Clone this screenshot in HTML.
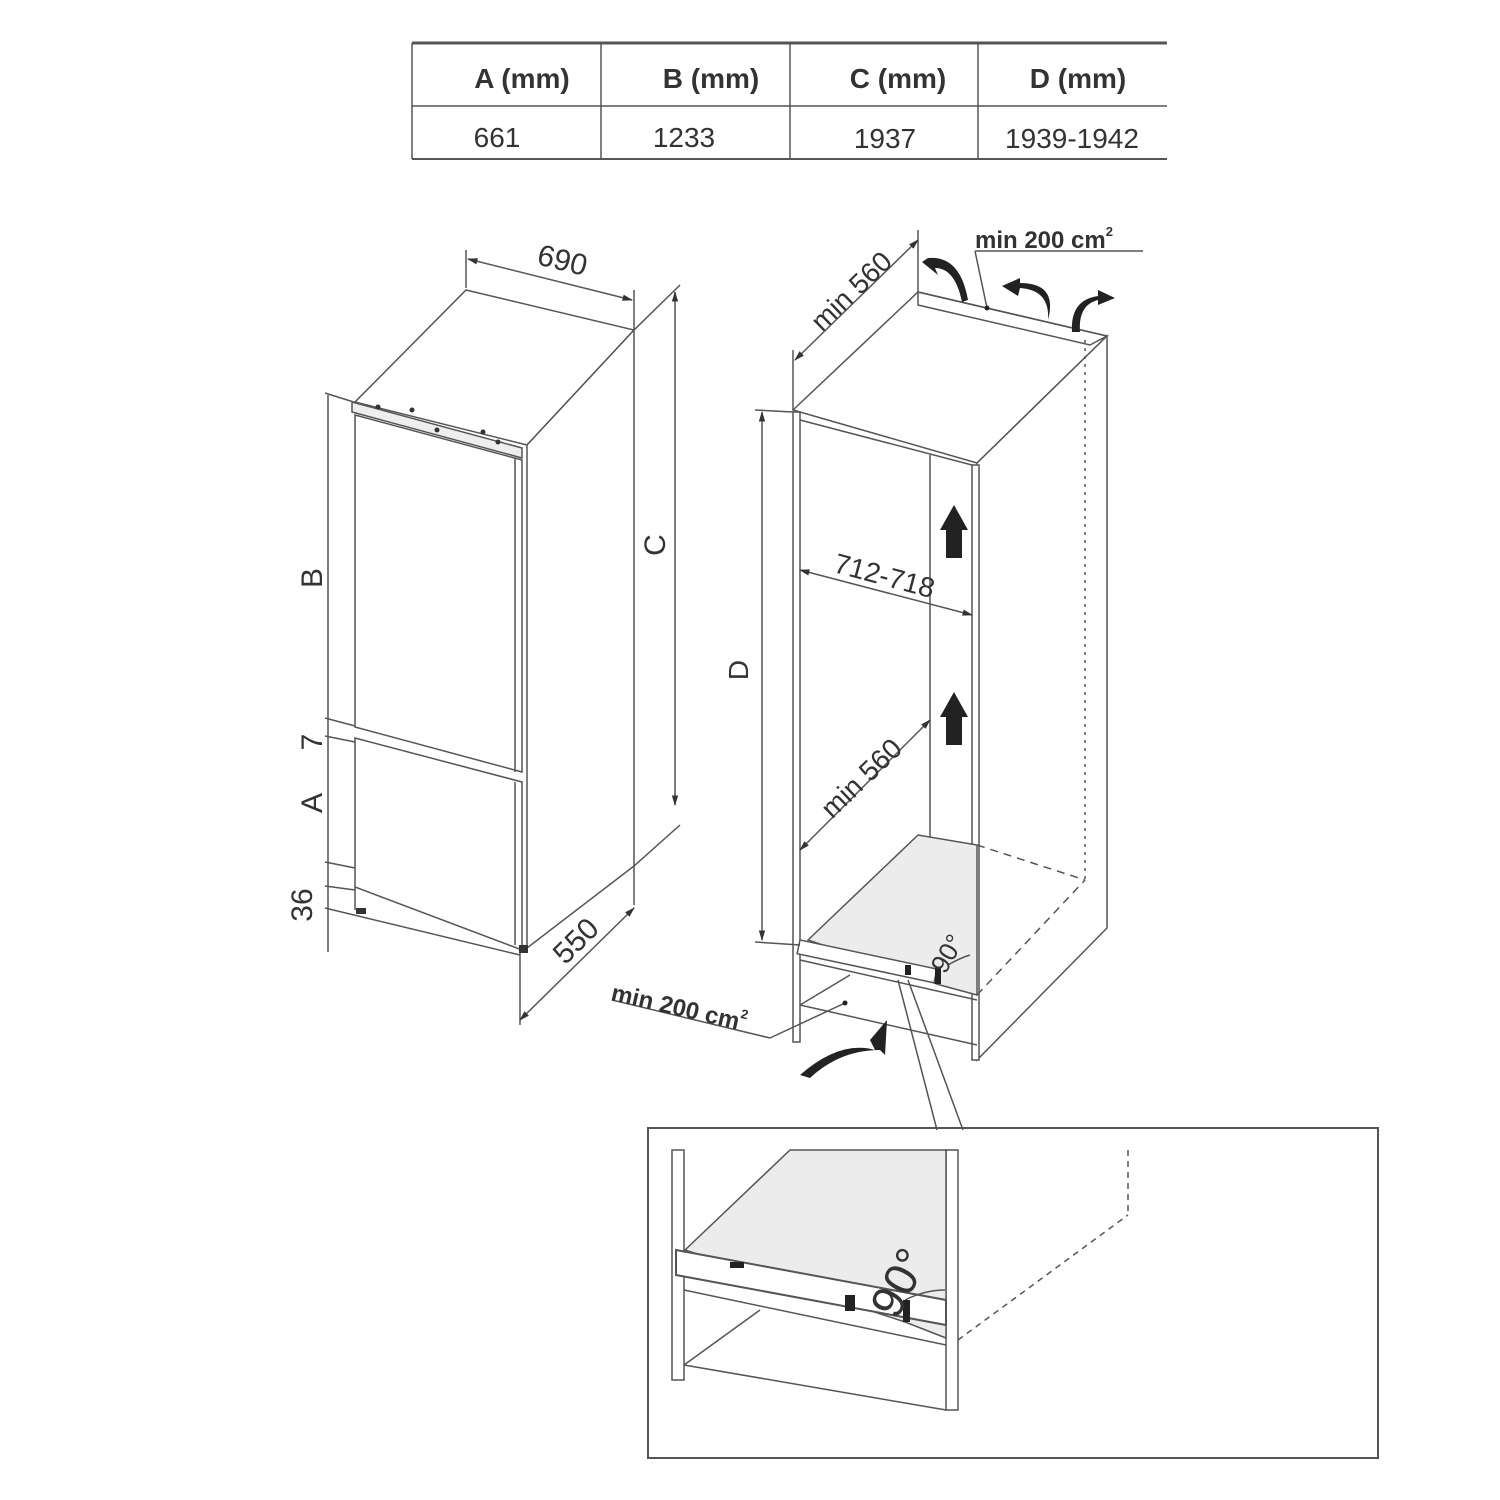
<!DOCTYPE html>
<html><head><meta charset="utf-8"><style>
html,body{margin:0;padding:0;background:#fff;}
svg{display:block;font-family:"Liberation Sans",Arial,sans-serif;}
</style></head><body>
<svg width="1500" height="1500" viewBox="0 0 1500 1500" xmlns="http://www.w3.org/2000/svg">
<defs>
<marker id="ar" viewBox="0 0 10 10" refX="9" refY="5" markerWidth="7" markerHeight="7" orient="auto-start-reverse"><path d="M0,2 L10,5 L0,8 z" fill="#333"/></marker>
</defs>
<rect width="1500" height="1500" fill="#fff"/>
<!-- table -->
<g stroke="#555" fill="none">
<line x1="412" y1="43" x2="1167" y2="43" stroke-width="3"/>
<line x1="412" y1="106" x2="1167" y2="106" stroke-width="1.5"/>
<line x1="412" y1="159" x2="1167" y2="159" stroke-width="2"/>
<line x1="412" y1="43" x2="412" y2="159" stroke-width="1.5"/>
<line x1="601" y1="43" x2="601" y2="159" stroke-width="1.5"/>
<line x1="790" y1="43" x2="790" y2="159" stroke-width="1.5"/>
<line x1="978" y1="43" x2="978" y2="159" stroke-width="1.5"/>
</g>
<g font-size="28" fill="#333" text-anchor="middle">
<text x="522" y="88" font-weight="bold">A (mm)</text>
<text x="711" y="88" font-weight="bold">B (mm)</text>
<text x="898" y="88" font-weight="bold">C (mm)</text>
<text x="1078" y="88" font-weight="bold">D (mm)</text>
<text x="497" y="147">661</text>
<text x="684" y="147">1233</text>
<text x="885" y="148">1937</text>
<text x="1072" y="148">1939-1942</text>
</g>

<!-- LEFT FRIDGE -->
<g stroke="#555" fill="none" stroke-width="1.5">
<line x1="466" y1="250" x2="466" y2="288"/>
<line x1="634" y1="290" x2="634" y2="330"/>
<line x1="468" y1="259" x2="632" y2="300" marker-start="url(#ar)" marker-end="url(#ar)"/>
<polygon points="466,290 634,330 527,445 355,402" fill="#fff"/>
<polygon points="527,445 634,330 634,866 527,948" fill="#fff"/>
<line x1="634" y1="330" x2="680" y2="285"/>
<line x1="634" y1="866" x2="680" y2="825"/>
<line x1="675" y1="292" x2="675" y2="805" marker-start="url(#ar)" marker-end="url(#ar)"/>
<polygon points="352,402 522,448 522,458 352,412" fill="#eee"/>
<polygon points="355,415 522,460 522,772 355,727" fill="#fff"/>
<line x1="515" y1="458" x2="515" y2="772"/>
<polygon points="355,738 522,782 522,950 355,887" fill="#fff"/>
<line x1="515" y1="782" x2="515" y2="945"/>
<line x1="355" y1="887" x2="355" y2="910"/>
<line x1="328" y1="395" x2="328" y2="952"/>
<line x1="325" y1="393" x2="360" y2="404"/>
<line x1="325" y1="718" x2="355" y2="726"/>
<line x1="325" y1="736" x2="355" y2="742"/>
<line x1="325" y1="862" x2="355" y2="868"/>
<line x1="325" y1="886" x2="355" y2="890"/>
<line x1="325" y1="908" x2="520" y2="955"/>
<line x1="520" y1="950" x2="520" y2="1025"/>
<line x1="634" y1="866" x2="634" y2="905"/>
<line x1="520" y1="1020" x2="634" y2="908" marker-start="url(#ar)" marker-end="url(#ar)"/>
</g>
<g fill="#333">
<circle cx="378" cy="407" r="2.5"/><circle cx="412" cy="410" r="2.5"/><circle cx="437" cy="430" r="2.5"/><circle cx="483" cy="432" r="2.5"/><circle cx="498" cy="442" r="2.5"/>
<rect x="356" y="908" width="10" height="6"/>
<rect x="519" y="945" width="9" height="8"/>
</g>
<g font-size="30" fill="#333" text-anchor="middle">
<text transform="translate(560,270) rotate(14)">690</text>
<text transform="translate(665,545) rotate(-90)">C</text>
<text transform="translate(322,578) rotate(-90)">B</text>
<text transform="translate(322,742) rotate(-90)">7</text>
<text transform="translate(322,803) rotate(-90)">A</text>
<text transform="translate(312,905) rotate(-90)">36</text>
<text transform="translate(583,948) rotate(-45)">550</text>
</g>

<!-- RIGHT CABINET -->
<g stroke="#555" fill="none" stroke-width="1.5">
<polygon points="793,410 918,292 1107,336 977,463" fill="#fff"/>
<polygon points="918,292 1107,336 1090,345 918,305" fill="none"/>
<polygon points="977,463 1107,336 1107,928 977,1060" fill="#fff"/>
<rect x="793" y="412" width="7" height="630" fill="#fff"/>
<rect x="972" y="465" width="7" height="595" fill="#fff"/>
<line x1="800" y1="420" x2="972" y2="465"/>
<line x1="930" y1="455" x2="930" y2="845"/>
<line x1="1085" y1="340" x2="1085" y2="880" stroke-dasharray="3,5"/>
<line x1="977" y1="845" x2="1085" y2="880" stroke-dasharray="8,6"/>
<line x1="977" y1="995" x2="1085" y2="880" stroke-dasharray="8,6"/>
<polygon points="808,940 918,835 977,845 977,995 940,985" fill="#ececec"/>
<rect x="800" y="940" width="140" height="14" fill="#fff" transform="rotate(12 800 940)"/>
<line x1="800" y1="960" x2="977" y2="1000"/>
<line x1="800" y1="1005" x2="977" y2="1045"/>
<line x1="800" y1="1005" x2="850" y2="975"/>
<line x1="755" y1="410" x2="793" y2="412"/>
<line x1="755" y1="942" x2="800" y2="945"/>
<line x1="762" y1="412" x2="762" y2="940" marker-start="url(#ar)" marker-end="url(#ar)"/>
<line x1="793" y1="350" x2="793" y2="410"/>
<line x1="918" y1="230" x2="918" y2="292"/>
<line x1="795" y1="360" x2="918" y2="240" marker-start="url(#ar)" marker-end="url(#ar)"/>
<line x1="800" y1="570" x2="972" y2="615" marker-start="url(#ar)" marker-end="url(#ar)"/>
<line x1="800" y1="850" x2="930" y2="720" marker-start="url(#ar)" marker-end="url(#ar)"/>
<line x1="975" y1="251" x2="1143" y2="251"/>
<line x1="975" y1="251" x2="987" y2="308"/>
<line x1="612" y1="1000" x2="770" y2="1038"/>
<line x1="770" y1="1038" x2="845" y2="1003"/>
<line x1="898" y1="980" x2="937" y2="1130"/>
<line x1="908" y1="980" x2="963" y2="1130"/>
<path d="M948,965 Q960,958 970,955"/>
</g>
<g fill="#222">
<circle cx="987" cy="308" r="2.5"/><circle cx="845" cy="1003" r="2.5"/>
<path d="M946,558 L946,530 L940,530 L954,505 L968,530 L962,530 L962,558 z"/>
<path d="M946,745 L946,717 L940,717 L954,692 L968,717 L962,717 L962,745 z"/>
<path d="M928,258 Q960,255 968,300 L962,302 Q955,268 935,268 L938,275 L922,262 z"/>
<path d="M1048,320 Q1050,290 1020,288 L1018,296 L1002,286 L1020,278 L1020,283 Q1058,283 1048,320 z"/>
<path d="M1072,332 Q1070,300 1098,296 L1098,290 L1115,298 L1098,305 L1098,300 Q1078,305 1080,332 z"/>
<path d="M800,1075 Q840,1040 875,1050 L870,1040 L887,1020 L885,1055 L880,1050 Q840,1050 810,1078 z"/>
<rect x="935" y="968" width="6" height="16"/><rect x="905" y="965" width="6" height="10"/>
</g>
<g font-size="28" fill="#333" text-anchor="middle">
<text transform="translate(858,298) rotate(-44)">min 560</text>
<text transform="translate(748,670) rotate(-90)">D</text>
<text transform="translate(882,585) rotate(15)">712-718</text>
<text transform="translate(868,785) rotate(-44)">min 560</text>
<text transform="translate(955,958) rotate(-60)" font-size="26">90°</text>
</g>
<g font-size="24" font-weight="bold" fill="#333">
<text x="975" y="248">min 200 cm<tspan font-size="13" dy="-12">2</tspan></text>
<text transform="translate(610,1000) rotate(13)">min 200 cm<tspan font-size="13" dy="-12">2</tspan></text>
</g>

<!-- INSET -->
<g stroke="#555" fill="none" stroke-width="1.5">
<rect x="648" y="1128" width="730" height="330" stroke-width="2"/>
<rect x="672" y="1150" width="12" height="230" fill="#fff"/>
<rect x="946" y="1150" width="12" height="260" fill="#fff"/>
<line x1="1128" y1="1150" x2="1128" y2="1215" stroke-dasharray="6,5"/>
<line x1="958" y1="1340" x2="1128" y2="1215" stroke-dasharray="6,5"/>
<polygon points="685,1250 790,1150 946,1150 946,1338 905,1322" fill="#ececec"/>
<polygon points="676,1250 946,1300 946,1325 676,1275" fill="#fff" stroke-width="2"/>
<line x1="684" y1="1290" x2="946" y2="1345"/>
<line x1="684" y1="1365" x2="946" y2="1410"/>
<line x1="684" y1="1365" x2="760" y2="1310"/>
<path d="M905,1300 Q925,1290 945,1290"/>
</g>
<g fill="#222"><rect x="845" y="1295" width="10" height="16"/><rect x="903" y="1300" width="7" height="22"/><rect x="730" y="1262" width="14" height="6"/></g>
<text transform="translate(913,1290) rotate(-62)" font-size="46" fill="#333" text-anchor="middle">90°</text>
</svg>
</body></html>
